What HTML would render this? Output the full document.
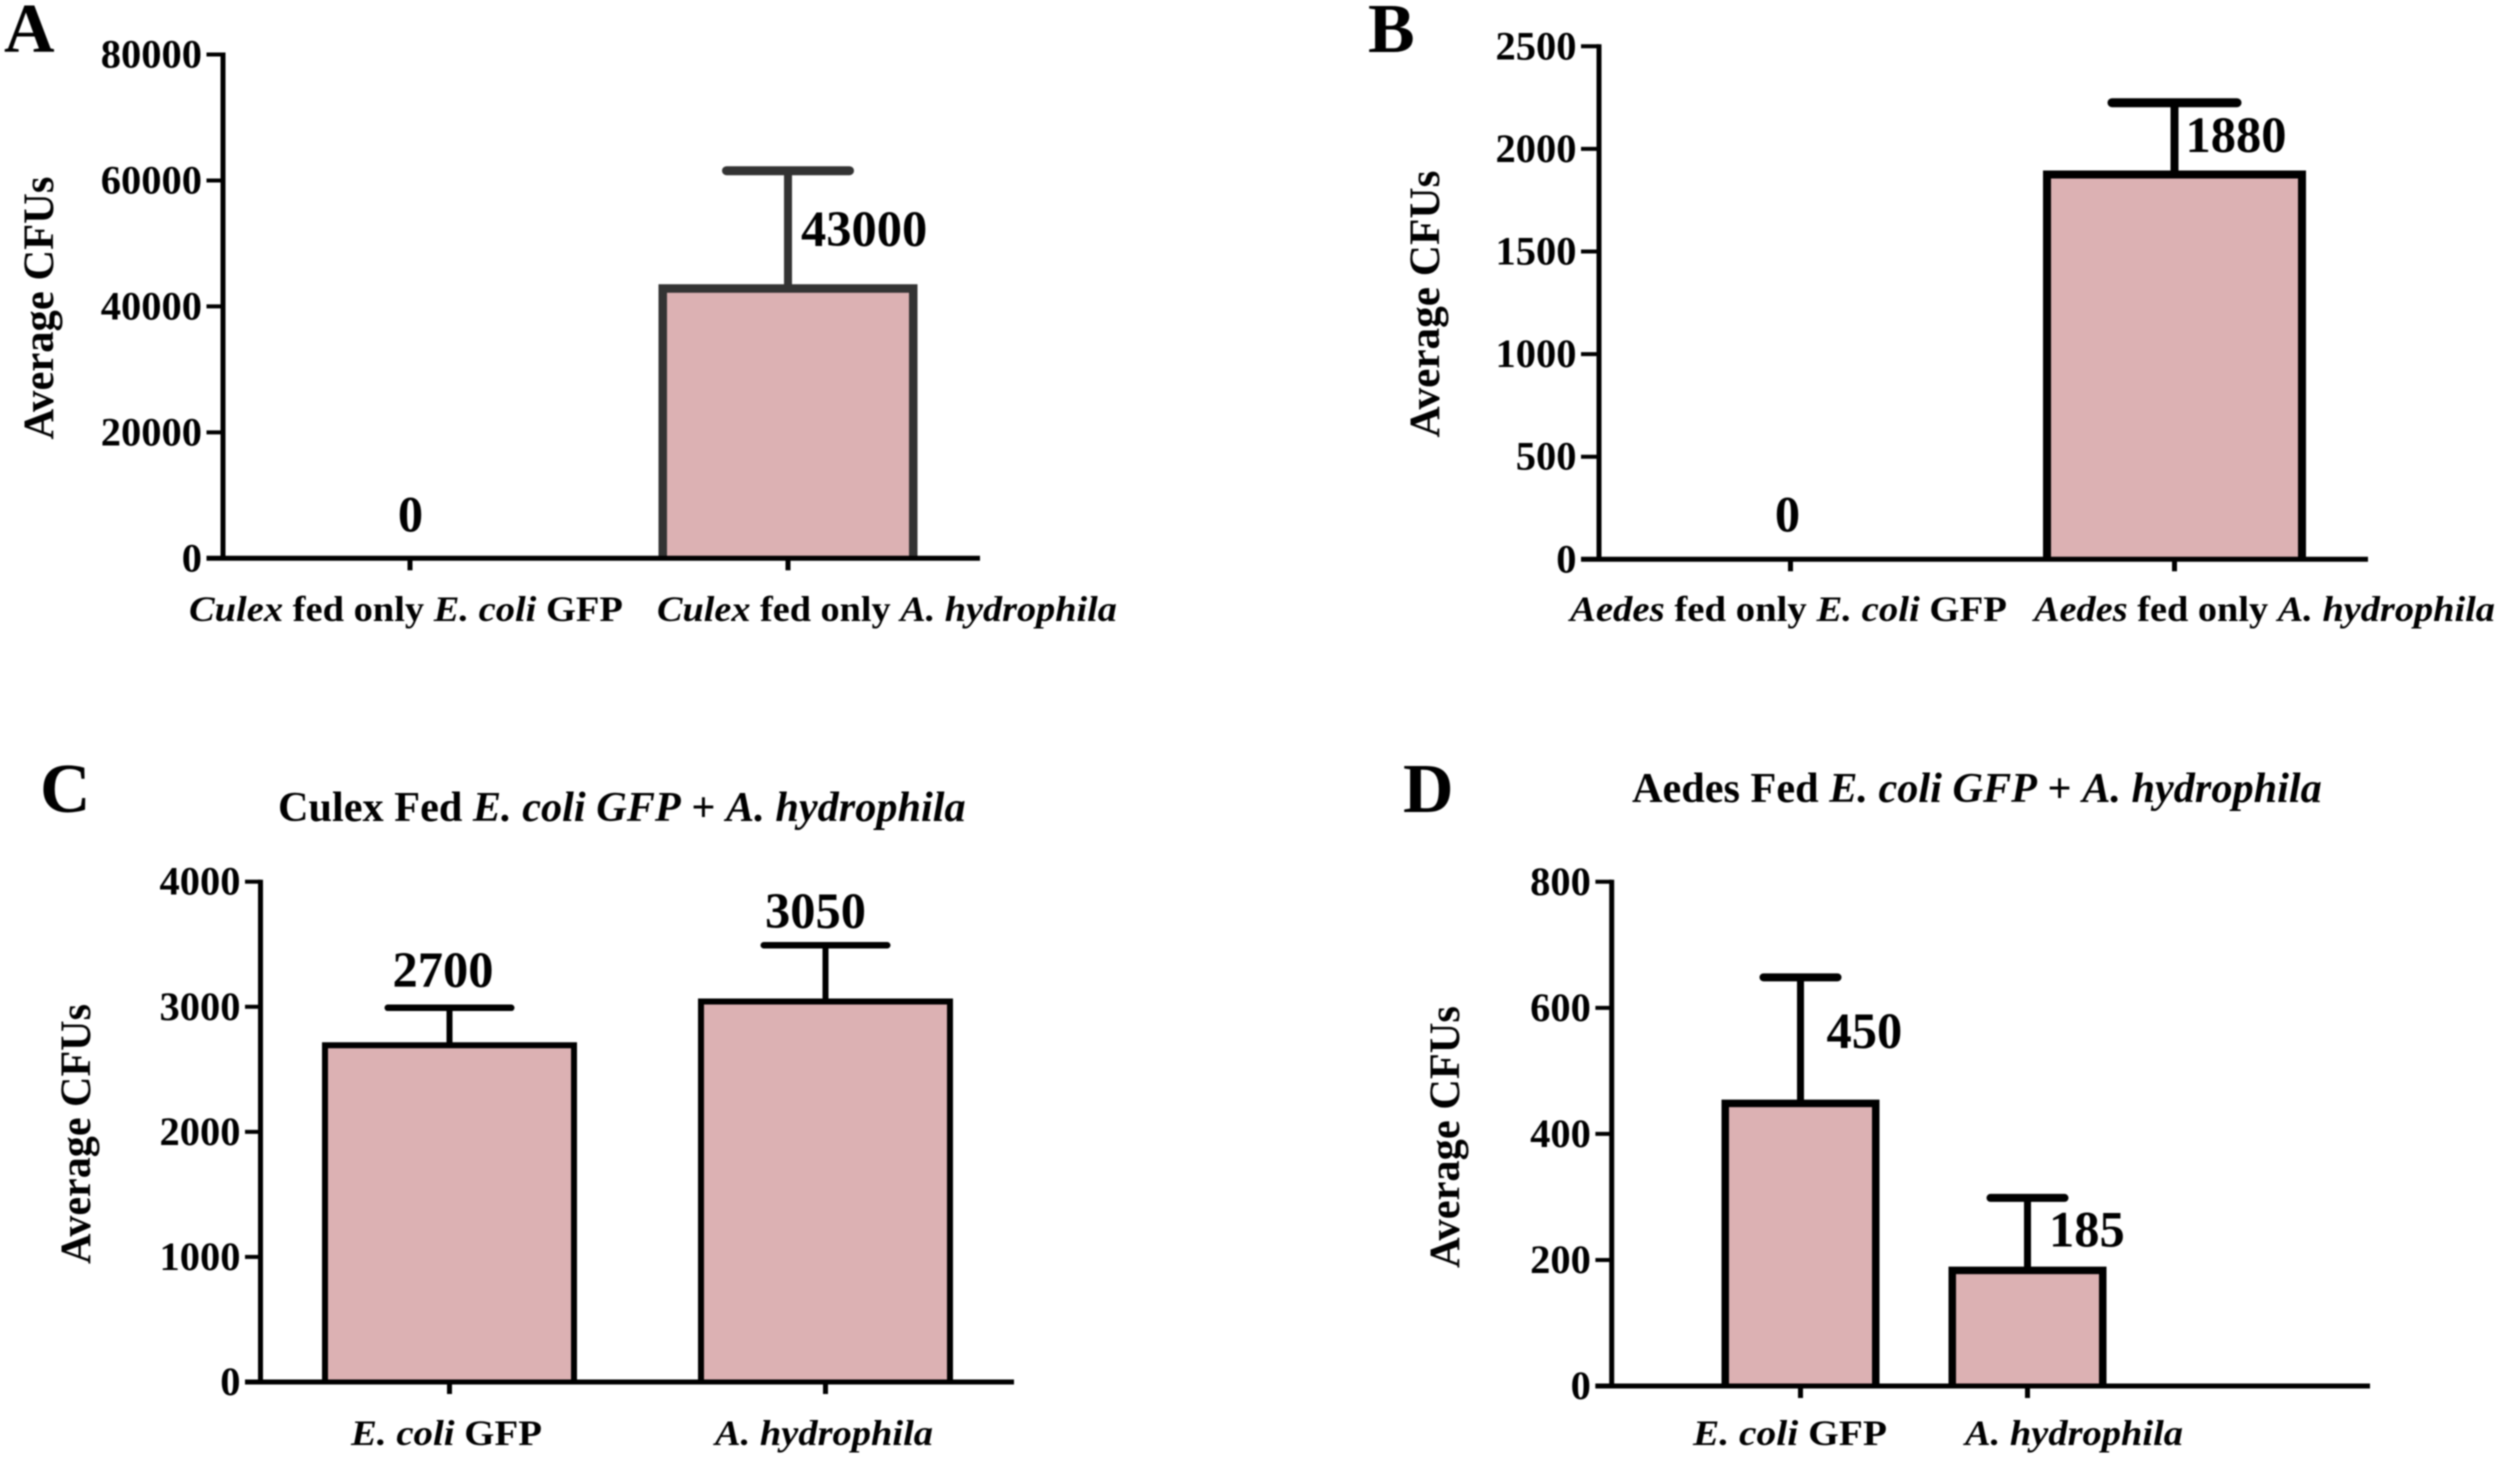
<!DOCTYPE html>
<html lang="en">
<head>
<meta charset="utf-8">
<title>Average CFUs in Culex and Aedes</title>
<style>
  html, body { margin: 0; padding: 0; background: #fff; }
  svg { display: block; font-family: "Liberation Serif", serif; font-weight: bold; fill: #000; filter: blur(0.7px); }
  .letter { font-size: 70px; }
  .title { font-size: 42px; }
  .axis-title { font-size: 43px; }
  .tick-label { font-size: 40.5px; }
  .cat-label { font-size: 36px; }
  .value-label { font-size: 50.5px; }
</style>
</head>
<body>
<svg id="figure" xmlns="http://www.w3.org/2000/svg" width="2500" height="1458" viewBox="0 0 2500 1458">
  <rect width="2500" height="1458" fill="#fff"/>
  <text class="letter" x="4" y="52">A</text>
  <text class="letter" x="1368" y="52">B</text>
  <text class="letter" x="40" y="812">C</text>
  <text class="letter" x="1403" y="812">D</text>
  <text class="title fit" data-x="278" data-y="821" data-w="688">Culex Fed <tspan font-style="italic">E. coli GFP</tspan> + <tspan font-style="italic">A. hydrophila</tspan></text>
  <text class="title fit" data-x="1632" data-y="802" data-w="690">Aedes Fed <tspan font-style="italic">E. coli GFP</tspan> + <tspan font-style="italic">A. hydrophila</tspan></text>
</svg>
<script>
// ---- Panel A ----
const panelACategories = ["*Culex* fed only *E. coli* GFP", "*Culex* fed only *A. hydrophila*"];
const panelAValues = [0, 43000];
const panelAErrorTops = [0, 61700];
const panelATicks = [0, 20000, 40000, 60000, 80000];
// ---- Panel B ----
const panelBCategories = ["*Aedes* fed only *E. coli* GFP", "*Aedes* fed only *A. hydrophila*"];
const panelBValues = [0, 1880];
const panelBErrorTops = [0, 2230];
const panelBTicks = [0, 500, 1000, 1500, 2000, 2500];
// ---- Panel C ----
const panelCCategories = ["*E. coli* GFP", "*A. hydrophila*"];
const panelCValues = [2700, 3050];
const panelCErrorTops = [3000, 3500];
const panelCTicks = [0, 1000, 2000, 3000, 4000];
// ---- Panel D ----
const panelDCategories = ["*E. coli* GFP", "*A. hydrophila*"];
const panelDValues = [450, 185];
const panelDErrorTops = [650, 300];
const panelDTicks = [0, 200, 400, 600, 800];

const panels = [
  { id: "a", categories: panelACategories, values: panelAValues, errorTops: panelAErrorTops, ticks: panelATicks,
    axisX: 223, axisRight: 980, top: 54.5, baseline: 558.3, tickLeft: 206.5,
    firstCat: 410, catStep: 378, barWidth: 250.5, barStroke: 8.5, capHalf: 66, stem: 8, cap: 9, color: "#333",
    catLabelY: 621, catLabelLeft: [189, 657], catLabelWidth: [434, 460],
    titleX: 53, titleY: 308, titleLen: 263,
    valueAnchor: ["middle", "start"], valueDx: [0.5, 13], valueDy: [-27, -41.5] },
  { id: "b", categories: panelBCategories, values: panelBValues, errorTops: panelBErrorTops, ticks: panelBTicks,
    axisX: 1599, axisRight: 2368, top: 46.3, baseline: 559.3, tickLeft: 1581,
    firstCat: 1790.5, catStep: 384, barWidth: 255, barStroke: 8, capHalf: 67, stem: 8, cap: 9, color: "#000",
    catLabelY: 621, catLabelLeft: [1570, 2034], catLabelWidth: [437, 461],
    titleX: 1439, titleY: 304, titleLen: 267,
    valueAnchor: ["middle", "start"], valueDx: [-3, 11], valueDy: [-28, -21.5] },
  { id: "c", categories: panelCCategories, values: panelCValues, errorTops: panelCErrorTops, ticks: panelCTicks,
    axisX: 260.5, axisRight: 1014, top: 881.7, baseline: 1382, tickLeft: 245,
    firstCat: 449.5, catStep: 376, barWidth: 249, barStroke: 6, capHalf: 65, stem: 6, cap: 6.5, color: "#000",
    catLabelY: 1445, catLabelLeft: [351, 715], catLabelWidth: [191, 218],
    titleX: 90, titleY: 1134, titleLen: 260,
    valueAnchor: ["middle", "middle"], valueDx: [-6.5, -10], valueDy: [-57.5, -72.5] },
  { id: "d", categories: panelDCategories, values: panelDValues, errorTops: panelDErrorTops, ticks: panelDTicks,
    axisX: 1611.7, axisRight: 2370, top: 881.8, baseline: 1386, tickLeft: 1595.4,
    firstCat: 1800.5, catStep: 227, barWidth: 150.5, barStroke: 7.5, capHalf: 41, stem: 7, cap: 8, color: "#000",
    catLabelY: 1445, catLabelLeft: [1693, 1965], catLabelWidth: [194, 218],
    titleX: 1459, titleY: 1137, titleLen: 262,
    valueAnchor: ["start", "start"], valueDx: [26, 21.5], valueDy: [-54.5, -23] }
];

// small vertical nudge: bars and caps sit about a pixel below their axis position in the figure
const markNudge = 1;

const svgNS = "http://www.w3.org/2000/svg";
const figure = document.getElementById("figure");

function make(tag, attrs, parent) {
  const node = document.createElementNS(svgNS, tag);
  for (const key in attrs) node.setAttribute(key, attrs[key]);
  parent.appendChild(node);
  return node;
}

function fitText(node, x, y, width, rotation) {
  node.setAttribute("x", 0);
  node.setAttribute("y", 0);
  const natural = node.getComputedTextLength() || width;
  node.setAttribute("transform", "translate(" + x + " " + y + ") rotate(" + rotation + ") scale(" + (width / natural) + " 1)");
}

function richText(node, source) {
  source.split("*").forEach(function (part, index) {
    if (!part) return;
    const span = make("tspan", {}, node);
    if (index % 2 === 1) span.setAttribute("font-style", "italic");
    span.textContent = part;
  });
}

document.querySelectorAll(".fit").forEach(function (node) {
  fitText(node, +node.dataset.x, +node.dataset.y, +node.dataset.w, 0);
});

panels.forEach(function (p) {
  const yMax = p.ticks[p.ticks.length - 1];
  const yScale = function (v) { return p.baseline - v * (p.baseline - p.top) / yMax; };
  const xScale = function (i) { return p.firstCat + i * p.catStep; };

  const group = make("g", {}, figure);
  
  

  // bars and error bars
  p.values.forEach(function (value, i) {
    if (value <= 0) return;
    const cx = xScale(i);
    const left = cx - p.barWidth / 2;
    const right = cx + p.barWidth / 2;
    const barTop = yScale(value) + markNudge;
    const errTop = yScale(p.errorTops[i]) + markNudge;

    const fill = make("rect", { x: left, y: barTop, width: p.barWidth, height: p.baseline - barTop, fill: "#dcb1b3" }, group);
    
    

    const outline = make("path", { d: "M" + left + " " + p.baseline + "V" + barTop + "H" + right + "V" + p.baseline, fill: "none", stroke: p.color, "stroke-width": p.barStroke }, group);
    
    

    const stem = make("line", { x1: cx, x2: cx, y1: barTop, y2: errTop, stroke: p.color, "stroke-width": p.stem }, group);
    
    

    const cap = make("line", { x1: cx - p.capHalf + p.cap / 2, x2: cx + p.capHalf - p.cap / 2, y1: errTop, y2: errTop, stroke: p.color, "stroke-width": p.cap, "stroke-linecap": "round" }, group);
    
    
  });

  // axes
  const yAxis = make("line", { x1: p.axisX, x2: p.axisX, y1: p.top - 2, y2: p.baseline, stroke: "#000", "stroke-width": 5 }, group);
  
  

  const xAxis = make("line", { x1: p.tickLeft, x2: p.axisRight, y1: p.baseline, y2: p.baseline, stroke: "#000", "stroke-width": 5 }, group);
  
  

  // y ticks and labels
  p.ticks.forEach(function (tick) {
    const y = yScale(tick);
    const mark = make("line", { x1: p.tickLeft, x2: p.axisX, y1: y, y2: y, stroke: "#000", "stroke-width": 4 }, group);
    
    

    const label = make("text", { class: "tick-label", x: p.tickLeft - 4.5, y: y + 13, "text-anchor": "end" }, group);
    
    
    label.textContent = tick;
  });

  // x ticks, category labels, value labels
  p.categories.forEach(function (category, i) {
    const x = xScale(i);
    const mark = make("line", { x1: x, x2: x, y1: p.baseline, y2: p.baseline + 12, stroke: "#000", "stroke-width": 5 }, group);
    
    

    const catLabel = make("text", { class: "cat-label" }, group);
    
    
    richText(catLabel, category);
    fitText(catLabel, p.catLabelLeft[i], p.catLabelY, p.catLabelWidth[i], 0);

    const valueLabel = make("text", { class: "value-label", x: x + p.valueDx[i], y: yScale(p.values[i]) + p.valueDy[i], "text-anchor": p.valueAnchor[i] }, group);
    
    
    valueLabel.textContent = p.values[i];
  });

  // rotated y-axis title
  const title = make("text", { class: "axis-title", "text-anchor": "middle" }, group);
  
  
  title.textContent = "Average CFUs";
  fitText(title, p.titleX, p.titleY, p.titleLen, -90);
});
</script>
</body>
</html>
